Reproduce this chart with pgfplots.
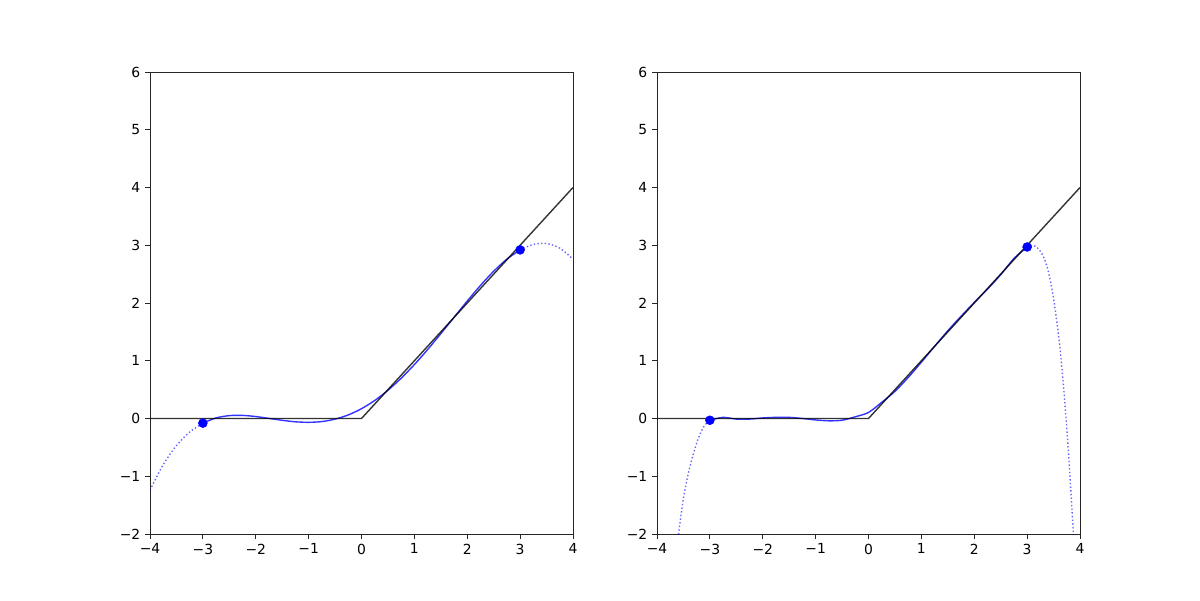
\documentclass[border=0pt]{standalone}
\usepackage{fontspec}
\setmainfont{DejaVu Sans}
\usepackage{pgfplots}
\pgfplotsset{compat=1.18}

% left: low-degree fit
\pgfplotstableread{
x y
-3 -0.080
-2.75 0.010
-2.5 0.050
-2.25 0.054
-2 0.034
-1.75 0.002
-1.5 -0.031
-1.25 -0.057
-1 -0.066
-0.75 -0.053
-0.5 -0.011
-0.25 0.062
0 0.170
0.25 0.312
0.5 0.489
0.75 0.698
1 0.934
1.25 1.193
1.5 1.469
1.75 1.752
2 2.034
2.25 2.304
2.5 2.550
2.75 2.760
3 2.920
}\fitA
\pgfplotstableread{
x y
-4 -1.24
-3.75 -0.80
-3.5 -0.47
-3.25 -0.235
-3 -0.080
}\outAl
\pgfplotstableread{
x y
3 2.920
3.25 3.015
3.5 3.030
3.75 2.950
4 2.760
}\outAr

% right: high-degree fit
\pgfplotstableread{
x y
-3 -0.030
-2.75 0.020
-2.5 -0.010
-2.25 -0.010
-2 0.010
-1.75 0.020
-1.5 0.020
-1.25 0.000
-1 -0.025
-0.75 -0.040
-0.5 -0.030
-0.25 0.030
0 0.105
0.25 0.280
0.5 0.470
0.75 0.710
1 0.975
1.25 1.250
1.5 1.520
1.75 1.770
2 2.010
2.25 2.240
2.5 2.490
2.75 2.770
3 2.970
}\fitB
\pgfplotstableread{
x y
-3.65 -2.45
-3.6 -2.05
-3.5 -1.38
-3.4 -0.92
-3.3 -0.57
-3.2 -0.30
-3.1 -0.12
-3 -0.030
}\outBl
\pgfplotstableread{
x y
3 2.970
3.1 3.000
3.2 2.950
3.3 2.820
3.4 2.550
3.5 2.080
3.6 1.400
3.65 0.950
3.7 0.430
3.75 -0.170
3.8 -0.850
3.85 -1.600
3.9 -2.400
}\outBr

\pgfplotsset{
    relupanel/.style={
        scale only axis,
        width=304.56pt, height=332.64pt,
        anchor=south west,
        xmin=-4, xmax=4, ymin=-2, ymax=6,
        xtick={-4,-3,...,4},
        xticklabels={−4,−3,−2,−1,0,1,2,3,4},
        ytick={-2,-1,...,6},
        yticklabels={−2,−1,0,1,2,3,4,5,6},
        tick align=outside,
        xtick pos=bottom, ytick pos=left,
        major tick length=3.5pt,
        every tick/.style={black!85, line width=0.6pt},
        axis line style={black!85, line width=0.6pt},
        tick label style={font=\fontsize{10}{12}\selectfont},
        clip=true,
    },
    fitline/.style={blue, opacity=0.8, line width=1pt, smooth, no marks},
    outline/.style={blue, opacity=0.6, line width=1pt, smooth, no marks,
        dash pattern=on 1pt off 1.65pt},
    relu/.style={black, opacity=0.8, line width=1pt, no marks},
    ends/.style={only marks, mark=*, mark size=3.2pt, blue,
        mark options={draw=blue, fill=blue}},
}

\begin{document}
\begin{tikzpicture}
\path[use as bounding box] (0,0) rectangle (864pt,432pt);

\begin{axis}[relupanel, at={(108pt,47.52pt)}]
\addplot[outline] table {\outAl};
\addplot[outline] table {\outAr};
\addplot[fitline] table {\fitA};
\addplot[relu] coordinates {(-4,0) (0,0) (4,4)};
\addplot[ends] coordinates {(-3,-0.080) (3,2.920)};
\end{axis}

\begin{axis}[relupanel, at={(473.04pt,47.52pt)}]
\addplot[outline] table {\outBl};
\addplot[outline] table {\outBr};
\addplot[fitline] table {\fitB};
\addplot[relu] coordinates {(-4,0) (0,0) (4,4)};
\addplot[ends] coordinates {(-3,-0.030) (3,2.970)};
\end{axis}
\end{tikzpicture}
\end{document}
